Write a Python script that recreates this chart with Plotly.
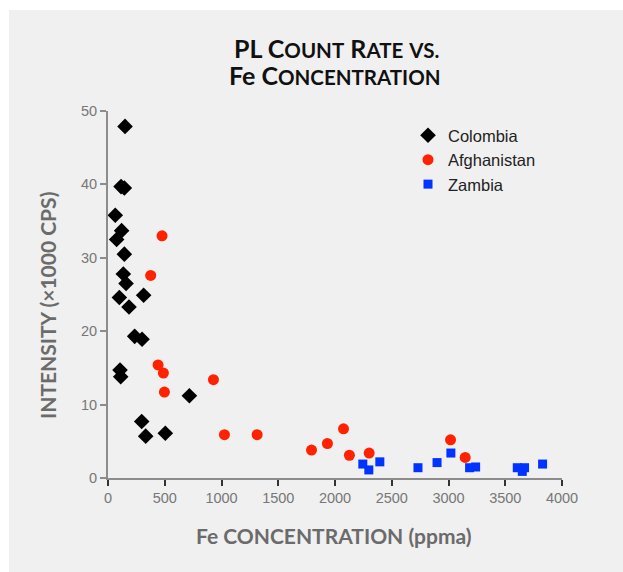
import plotly.graph_objects as go

# Fe concentration (ppma) and PL intensity (x1000 counts per second)
colombia_fe = [150, 115, 144, 64, 120, 76, 144, 135, 159, 100, 314, 185, 235, 300,
               106, 112, 717, 297, 332, 505]
colombia_int = [47.9, 39.7, 39.5, 35.8, 33.7, 32.5, 30.5, 27.8, 26.5, 24.6, 24.9, 23.3,
                19.3, 18.9, 14.7, 13.8, 11.2, 7.7, 5.7, 6.1]

afghan_fe = [476, 376, 441, 488, 497, 929, 1026, 1314, 1793, 1933, 2075, 2127, 2301,
             3018, 3147]
afghan_int = [33.0, 27.6, 15.4, 14.3, 11.7, 13.4, 5.9, 5.9, 3.8, 4.7, 6.7, 3.1, 3.4,
              5.2, 2.8]

zambia_fe = [2245, 2298, 2395, 2731, 2899, 3021, 3186, 3239, 3606, 3670, 3650, 3829]
zambia_int = [1.9, 1.1, 2.2, 1.4, 2.1, 3.4, 1.4, 1.5, 1.4, 1.4, 0.9, 1.9]

x_ticks = [0, 500, 1000, 1500, 2000, 2500, 3000, 3500, 4000]
y_ticks = [0, 10, 20, 30, 40, 50]

W, H = 623, 572
L, R, T, B = 108, 61, 111, 94
PW, PH = W - L - R, H - T - B


def px_x(px):
    return (px - L) / PW


def px_y(py):
    return (H - B - py) / PH


fig = go.Figure()
fig.add_trace(go.Scatter(x=colombia_fe, y=colombia_int, mode="markers", name="Colombia",
                         marker=dict(symbol="diamond", size=12, color="#000000")))
fig.add_trace(go.Scatter(x=afghan_fe, y=afghan_int, mode="markers", name="Afghanistan",
                         marker=dict(symbol="circle", size=11, color="#ff2200")))
fig.add_trace(go.Scatter(x=zambia_fe, y=zambia_int, mode="markers", name="Zambia",
                         marker=dict(symbol="square", size=9, color="#0033ff")))

title_font = "Lato, 'Open Sans', sans-serif"
sans = "'Liberation Sans', Arial, sans-serif"
sc = "<span style='font-size:20.5px'>{}</span>"
line1 = "<b>PL C" + sc.format("OUNT") + " R" + sc.format("ATE") + " " + sc.format("VS.") + "</b>"
line2 = "<b>Fe C" + sc.format("ONCENTRATION") + "</b>"

fig.update_layout(
    width=W, height=H,
    margin=dict(l=L, r=R, t=T, b=B),
    paper_bgcolor="white",
    plot_bgcolor="white",
    showlegend=True,
    legend=dict(x=px_x(408), y=px_y(118), xanchor="left", yanchor="top",
                bgcolor="rgba(0,0,0,0)", tracegroupgap=0,
                font=dict(family=sans, size=16.5, color="#222")),
    shapes=[dict(type="rect", xref="paper", yref="paper", layer="below",
                 x0=px_x(9), x1=px_x(W + 2), y0=px_y(H + 2), y1=px_y(10),
                 fillcolor="#f0f0f0", line=dict(width=0))],
    annotations=[
        dict(text=line1, xref="paper", yref="paper", x=px_x(336), y=px_y(48),
             showarrow=False, xanchor="center", yanchor="middle",
             font=dict(family=title_font, size=25, color="#111")),
        dict(text=line2, xref="paper", yref="paper", x=px_x(335), y=px_y(75),
             showarrow=False, xanchor="center", yanchor="middle",
             font=dict(family=title_font, size=25, color="#111")),
        dict(text="<b>Fe CONCENTRATION (ppma)</b>", xref="paper", yref="paper",
             x=px_x(334), y=px_y(535),
             showarrow=False, xanchor="center", yanchor="middle",
             font=dict(family=title_font, size=21, color="#6b6b6b")),
        dict(text="<b>INTENSITY (×1000 CPS)</b>", xref="paper", yref="paper",
             x=px_x(47), y=px_y(306), textangle=-90,
             showarrow=False, xanchor="center", yanchor="middle",
             font=dict(family=title_font, size=21, color="#6b6b6b")),
    ],
)

fig.update_xaxes(range=[0, 4000], tickvals=x_ticks, ticks="outside", ticklen=6,
                 tickcolor="#333", tickwidth=1.5, showline=True, linecolor="#8c8c8c",
                 linewidth=2, showgrid=False, zeroline=False,
                 tickfont=dict(family=sans, size=14.5, color="#777"))
fig.update_yaxes(range=[0, 50], tickvals=y_ticks, ticks="outside", ticklen=6,
                 tickcolor="#8c8c8c", tickwidth=1.5, showline=True, linecolor="#8c8c8c",
                 linewidth=2, showgrid=False, zeroline=False,
                 tickfont=dict(family=sans, size=14.5, color="#777"))

fig.write_html("out.html")
